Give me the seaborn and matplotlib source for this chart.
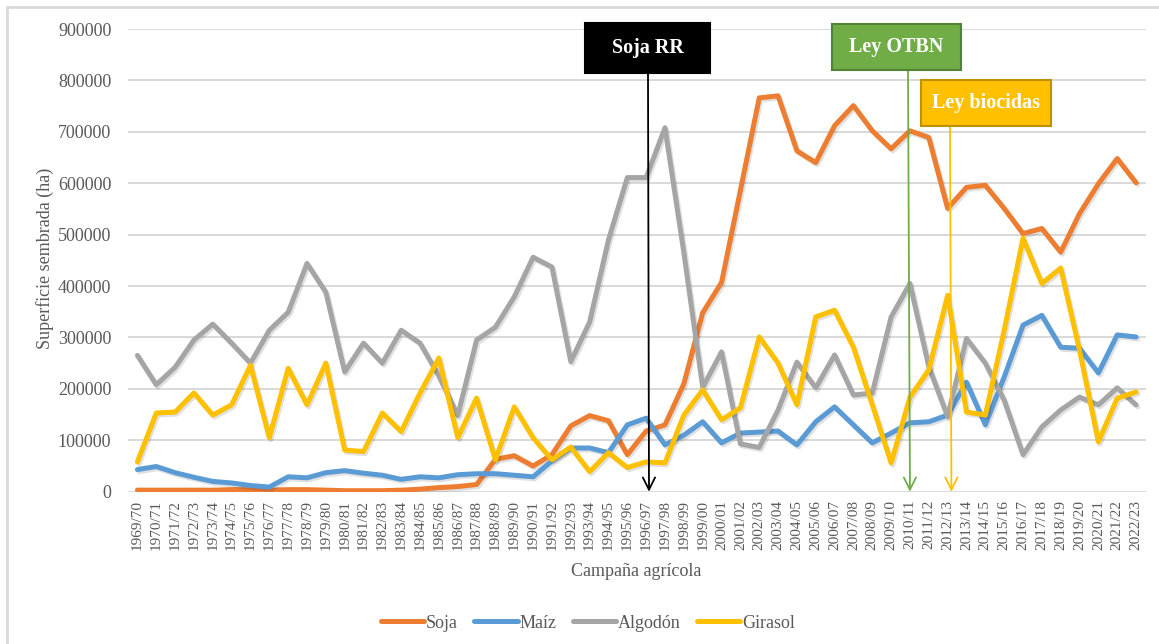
import matplotlib
matplotlib.use("Agg")
import matplotlib.pyplot as plt
import matplotlib.patheffects as pe
from matplotlib.patches import Rectangle
import seaborn as sns
import pandas as pd

campanas = ["1969/70", "1970/71", "1971/72", "1972/73", "1973/74", "1974/75", "1975/76",
            "1976/77", "1977/78", "1978/79", "1979/80", "1980/81", "1981/82", "1982/83",
            "1983/84", "1984/85", "1985/86", "1986/87", "1987/88", "1988/89", "1989/90",
            "1990/91", "1991/92", "1992/93", "1993/94", "1994/95", "1995/96", "1996/97",
            "1997/98", "1998/99", "1999/00", "2000/01", "2001/02", "2002/03", "2003/04",
            "2004/05", "2005/06", "2006/07", "2007/08", "2008/09", "2009/10", "2010/11",
            "2011/12", "2012/13", "2013/14", "2014/15", "2015/16", "2016/17", "2017/18",
            "2018/19", "2019/20", "2020/21", "2021/22", "2022/23"]

soja = [3000, 3000, 3000, 3000, 3000, 4000, 4000, 3000, 4000, 4000, 3000, 2000, 2000, 2000,
        3000, 5000, 8000, 10000, 14000, 63000, 70000, 50000, 72000, 128000, 148000, 138000,
        72000, 118000, 130000, 210000, 348000, 407000, 586000, 766000, 770000, 663000,
        640000, 712000, 751000, 702000, 667000, 702000, 689000, 551000, 592000, 596000,
        551000, 502000, 512000, 466000, 541000, 599000, 648000, 601000]

maiz = [43000, 49000, 37000, 28000, 20000, 17000, 12000, 9000, 29000, 27000, 37000, 41000,
        36000, 32000, 24000, 29000, 27000, 33000, 35000, 35000, 32000, 29000, 60000, 85000,
        85000, 76000, 130000, 143000, 91000, 110000, 136000, 95000, 114000, 116000, 118000,
        91000, 136000, 165000, 130000, 95000, 114000, 134000, 136000, 149000, 213000,
        130000, 223000, 324000, 343000, 281000, 279000, 231000, 305000, 301000]

algodon = [265000, 208000, 242000, 295000, 326000, 289000, 250000, 314000, 349000, 444000,
           388000, 233000, 289000, 250000, 314000, 289000, 225000, 148000, 295000, 320000,
           379000, 456000, 437000, 253000, 330000, 490000, 611000, 611000, 708000, 465000,
           203000, 272000, 93000, 86000, 159000, 252000, 202000, 266000, 188000, 192000,
           340000, 405000, 243000, 146000, 298000, 250000, 178000, 72000, 126000, 159000,
           184000, 169000, 202000, 169000]

girasol = [58000, 153000, 155000, 192000, 149000, 169000, 246000, 105000, 240000, 169000,
           250000, 81000, 78000, 153000, 117000, 192000, 260000, 105000, 182000, 62000,
           165000, 105000, 62000, 87000, 39000, 76000, 47000, 58000, 56000, 149000, 198000,
           140000, 163000, 301000, 250000, 169000, 340000, 353000, 281000, 169000, 56000,
           184000, 237000, 382000, 155000, 149000, 314000, 493000, 405000, 435000, 275000,
           97000, 182000, 194000]

series = ["Soja", "Maíz", "Algodón", "Girasol"]
colores = ["#ED7D31", "#5B9BD5", "#A5A5A5", "#FFC000"]
eventos = ["Soja RR", "Ley OTBN", "Ley biocidas"]
eventos_campana = [27.15, 41.0, 43.2]

df = pd.concat([
    pd.DataFrame({"Campaña": campanas, "Superficie": vals, "Cultivo": name})
    for name, vals in zip(series, [soja, maiz, algodon, girasol])
], ignore_index=True)

sns.set_style("white")
plt.rcParams["font.family"] = ["Liberation Serif", "DejaVu Serif"]

W, H = 1159, 644
fig = plt.figure(figsize=(W / 100, H / 100), dpi=100)
ax = fig.add_axes([128 / W, 1 - 491.7 / H, (1145.5 - 128) / W, (491.7 - 29) / H])

sns.lineplot(data=df, x="Campaña", y="Superficie", hue="Cultivo", hue_order=series,
             palette=colores, linewidth=3.6, sort=False, ax=ax)
for ln in ax.lines:
    ln.set_solid_capstyle("round")
    ln.set_solid_joinstyle("round")
    ln.set_path_effects([pe.SimpleLineShadow(offset=(1.2, -1.5), alpha=0.12, shadow_color="black"),
                         pe.Normal()])

ax.set_xlim(-0.5, len(campanas) - 0.5)
ax.set_ylim(0, 900000)
ax.set_yticks(range(0, 900001, 100000))
ax.set_yticklabels([str(v) for v in range(0, 900001, 100000)])
ax.set_xticks(range(len(campanas)))
ax.set_xticklabels(campanas, rotation=90)
ax.tick_params(axis="y", length=0, pad=12, labelsize=13, labelcolor="#595959")
ax.tick_params(axis="x", length=0, pad=6, labelsize=11, labelcolor="#595959")
ax.grid(axis="y", color="#D9D9D9", linewidth=1.4)
ax.grid(axis="x", visible=False)
for s in ax.spines.values():
    s.set_visible(False)
ax.set_xlabel("")
ax.set_ylabel("")

fig.text(45 / W, 1 - 258 / H, "Superficie sembrada (ha)", rotation=90, ha="center",
         va="center", fontsize=13, color="#595959")
fig.text(636 / W, 1 - 572 / H, "Campaña agrícola", ha="center", va="center",
         fontsize=13, color="#595959")

sns.move_legend(ax, "center", bbox_to_anchor=((588 - 128) / (1145.5 - 128), (491.7 - 623) / (491.7 - 29)),
                ncol=4, frameon=False, title=None, fontsize=13, handlelength=2.4,
                handletextpad=0.1, columnspacing=0.9)
leg = ax.get_legend()
for t in leg.get_texts():
    t.set_color("#595959")
for h in leg.legend_handles:
    h.set_linewidth(3.6)
    h.set_solid_capstyle("round")

# outer chart border
fig.patches.append(Rectangle((7 / W, -0.1), 1.2, 1.1 - 7 / H, transform=fig.transFigure,
                             fill=False, edgecolor="#D9D9D9", linewidth=2))

# event boxes (pixel extents) and arrows
boxes = [(585, 23, 710, 73, "black", "black"),
         (832, 24, 961, 70, "#70AD47", "#548235"),
         (921, 80, 1051, 126, "#FFC000", "#BF9000")]
arrow_cols = ["black", "#70AD47", "#FFC000"]
arrow_top_x = [648, 908, 950]
for (x0, y0, x1, y1, fc, ec), name, xc, col, tx in zip(boxes, eventos, eventos_campana,
                                                      arrow_cols, arrow_top_x):
    ax.annotate("", xy=(xc, 0), xycoords="data",
                xytext=(tx / W, 1 - y1 / H), textcoords="figure fraction",
                arrowprops=dict(arrowstyle="->", color=col, lw=1.3, mutation_scale=22,
                                shrinkA=0, shrinkB=0), annotation_clip=False)
    fig.patches.append(Rectangle((x0 / W, 1 - y1 / H), (x1 - x0) / W, (y1 - y0) / H,
                                 transform=fig.transFigure, facecolor=fc, edgecolor=ec,
                                 linewidth=1.5, zorder=5))
    fig.text((x0 + x1) / 2 / W, 1 - (y0 + y1) / 2 / H, name, ha="center", va="center",
             fontsize=14.5, fontweight="bold", color="white", zorder=6)

fig.savefig("out.png", dpi=100)
